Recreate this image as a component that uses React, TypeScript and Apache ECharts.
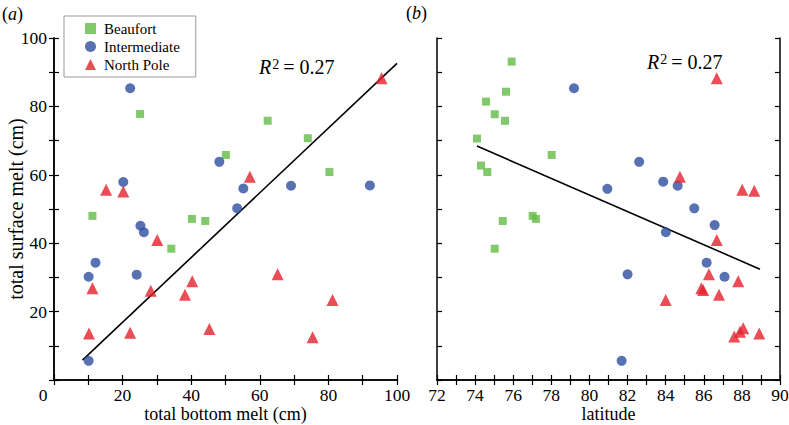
import React, { useEffect, useRef } from "react";
import * as echarts from "echarts";

// Panel (a): total bottom melt (cm) vs total surface melt (cm)
const beaufortA: number[][] = [
  [25.1, 77.8], [50.1, 65.8], [62.3, 75.8], [74.0, 70.7], [80.3, 60.8],
  [11.2, 48.0], [40.2, 47.1], [44.1, 46.5], [34.2, 38.4],
];
const intermediateA: number[][] = [
  [22.2, 85.3], [48.2, 63.8], [20.2, 57.9], [55.2, 56.0], [69.1, 56.8],
  [92.1, 56.9], [53.4, 50.2], [25.2, 45.1], [26.2, 43.2], [12.1, 34.3],
  [10.1, 30.2], [24.1, 30.8], [10.1, 5.6],
];
const northPoleA: number[][] = [
  [95.5, 88.2], [57.1, 59.4], [15.2, 55.6], [20.2, 55.1], [30.1, 40.9],
  [40.3, 28.9], [11.2, 26.8], [28.2, 26.1], [38.2, 24.9], [65.2, 30.9],
  [81.2, 23.4], [10.2, 13.6], [22.2, 13.8], [45.3, 14.9], [75.4, 12.5],
];
const fitA: number[][] = [[8.3, 5.8], [100, 92.6]];

// Panel (b): latitude vs total surface melt (cm)
const beaufortB: number[][] = [
  [75.92, 93.1], [75.62, 84.3], [74.57, 81.4], [75.03, 77.7], [75.57, 75.8],
  [74.10, 70.6], [78.02, 65.8], [74.31, 62.7], [74.64, 60.8], [77.02, 48.0],
  [77.19, 47.1], [75.45, 46.5], [75.03, 38.4],
];
const intermediateB: number[][] = [
  [79.19, 85.3], [82.61, 63.8], [83.87, 58.0], [84.63, 56.8], [80.94, 55.9],
  [85.5, 50.2], [86.57, 45.3], [84.01, 43.2], [86.15, 34.3], [82.0, 30.9],
  [87.09, 30.2], [81.69, 5.6],
];
const northPoleB: number[][] = [
  [86.68, 88.2], [84.75, 59.4], [88.02, 55.6], [88.65, 55.3], [86.68, 40.9],
  [86.27, 30.9], [87.81, 28.9], [85.87, 26.8], [85.97, 26.3], [86.8, 24.9],
  [84.0, 23.4], [88.07, 15.1], [87.9, 14.1], [88.91, 13.6], [87.6, 12.7],
];
const fitB: number[][] = [[74.1, 68.4], [88.95, 32.4]];

const seriesNames = ["Beaufort", "Intermediate", "North Pole"];
const r2Text = "0.27";

const FONT = "Liberation Serif, Times New Roman, DejaVu Serif, serif";
const GREEN = "#63bb47";
const BLUE = "#2e4d9f";
const RED = "#e5202a";

export default function App() {
  const ref = useRef<HTMLDivElement>(null);
  useEffect(() => {
    if (!ref.current) return;
    const chart = echarts.init(ref.current, null, { renderer: "svg" });

    const axisLine = { show: true, lineStyle: { color: "#000", width: 1.5 } };
    const tick = { show: true, inside: true, length: 5, lineStyle: { color: "#000", width: 1.2 } };
    const lbl = { color: "#000", fontFamily: FONT, fontSize: 17.5 };
    const nameStyle = { color: "#000", fontFamily: FONT, fontSize: 18 };

    const mkX = (gridIndex: number, min: number, max: number, interval: number, top: boolean, extra: any = {}) => ({
      type: "value",
      gridIndex,
      position: top ? "top" : "bottom",
      min,
      max,
      interval,
      axisLine,
      axisTick: tick,
      splitLine: { show: false },
      axisLabel: top ? { show: false } : { ...lbl, margin: 6, ...extra.axisLabel },
      ...(extra.name
        ? { name: extra.name, nameLocation: "middle", nameGap: 25, nameMoveOverlap: false, nameTextStyle: nameStyle }
        : {}),
    });
    const mkY = (gridIndex: number, right: boolean, showLabels: boolean, name?: string) => ({
      type: "value",
      gridIndex,
      position: right ? "right" : "left",
      min: 0,
      max: 100,
      interval: 10,
      axisLine,
      axisTick: tick,
      splitLine: { show: false },
      axisLabel: showLabels
        ? {
            ...lbl,
            margin: 7,
            formatter: (v: number) => (v !== 0 && v % 20 === 0 ? String(v) : ""),
          }
        : { show: false },
      ...(name
        ? { name, nameLocation: "middle", nameGap: 28, nameMoveOverlap: false, nameTextStyle: { ...nameStyle, fontSize: 20 } }
        : {}),
    });

    const scatter = (name: string, data: number[][], xi: number, yi: number, symbol: string, size: number, color: string) => ({
      type: "scatter",
      name,
      data,
      xAxisIndex: xi,
      yAxisIndex: yi,
      symbol,
      symbolSize: size,
      itemStyle: { color },
      z: 3,
    });
    const fit = (data: number[][], xi: number, yi: number) => ({
      type: "line",
      name: "fit",
      data,
      xAxisIndex: xi,
      yAxisIndex: yi,
      showSymbol: false,
      symbol: "none",
      lineStyle: { color: "#000", width: 1.6 },
      z: 2,
    });

    const r2 = (x: number, y: number) => ({
      type: "text",
      x,
      y,
      style: {
        text: "{r|R}{s|2}{n|= " + r2Text + "}",
        verticalAlign: "middle",
        rich: {
          r: { fontFamily: FONT, fontSize: 20, fontStyle: "italic", fill: "#000" },
          s: { fontFamily: FONT, fontSize: 14, fill: "#000", verticalAlign: "top", padding: [0, 4, 6, 1] },
          n: { fontFamily: FONT, fontSize: 20, fill: "#000" },
        },
      },
    });
    const panel = (x: number, y: number, letter: string) => ({
      type: "text",
      x,
      y,
      style: {
        text: "{p|(}{i|" + letter + "}{p|)}",
        verticalAlign: "middle",
        rich: {
          p: { fontFamily: FONT, fontSize: 18, fill: "#000" },
          i: { fontFamily: FONT, fontSize: 18, fontStyle: "italic", fill: "#000" },
        },
      },
    });

    chart.setOption({
      animation: false,
      backgroundColor: "#fff",
      textStyle: { fontFamily: FONT },
      grid: [
        { left: 54, top: 38, width: 343, height: 342, outerBoundsMode: "none", containLabel: false },
        { left: 437, top: 38, width: 343, height: 342, outerBoundsMode: "none", containLabel: false },
      ],
      xAxis: [
        mkX(0, 0, 100, 10, false, {
          name: "total bottom melt (cm)",
          axisLabel: {
            formatter: (v: number) => (v === 0 ? "{z|0}" : v % 20 === 0 ? String(v) : ""),
            rich: { z: { fontFamily: FONT, fontSize: 17.5, color: "#000", padding: [0, 22, 0, 0] } },
          },
        }),
        mkX(0, 0, 100, 10, true),
        mkX(1, 72, 90, 1, false, {
          name: "latitude",
          axisLabel: { formatter: (v: number) => (v % 2 === 0 ? String(v) : "") },
        }),
        mkX(1, 72, 90, 1, true),
      ],
      yAxis: [
        mkY(0, false, true, "total surface melt (cm)"),
        mkY(0, true, false),
        mkY(1, false, false),
        mkY(1, true, false),
      ],
      legend: {
        left: 64,
        top: 16,
        orient: "vertical",
        backgroundColor: "#fff",
        borderColor: "#9a9a9a",
        borderWidth: 1,
        borderRadius: 0,
        padding: [5, 16, 5, 21],
        itemGap: 3,
        itemWidth: 11,
        itemHeight: 11,
        z: 10,
        textStyle: { fontFamily: FONT, fontSize: 15, color: "#000", padding: [0, 0, 0, 3] },
        data: [
          { name: seriesNames[0], icon: "rect" },
          { name: seriesNames[1], icon: "circle" },
          { name: seriesNames[2], icon: "triangle" },
        ],
      },
      series: [
        fit(fitA, 0, 0),
        scatter(seriesNames[0], beaufortA, 0, 0, "rect", 8, GREEN),
        scatter(seriesNames[1], intermediateA, 0, 0, "circle", 10, BLUE),
        scatter(seriesNames[2], northPoleA, 0, 0, "triangle", 12, RED),
        fit(fitB, 2, 2),
        scatter(seriesNames[0], beaufortB, 2, 2, "rect", 8, GREEN),
        scatter(seriesNames[1], intermediateB, 2, 2, "circle", 10, BLUE),
        scatter(seriesNames[2], northPoleB, 2, 2, "triangle", 12, RED),
      ],
      graphic: [r2(259, 67), r2(647, 62), panel(2, 14, "a"), panel(406, 13, "b")],
    });
    return () => chart.dispose();
  }, []);
  return <div ref={ref} style={{ width: 789, height: 425, position: "absolute", left: 0, top: 0 }} />;
}
